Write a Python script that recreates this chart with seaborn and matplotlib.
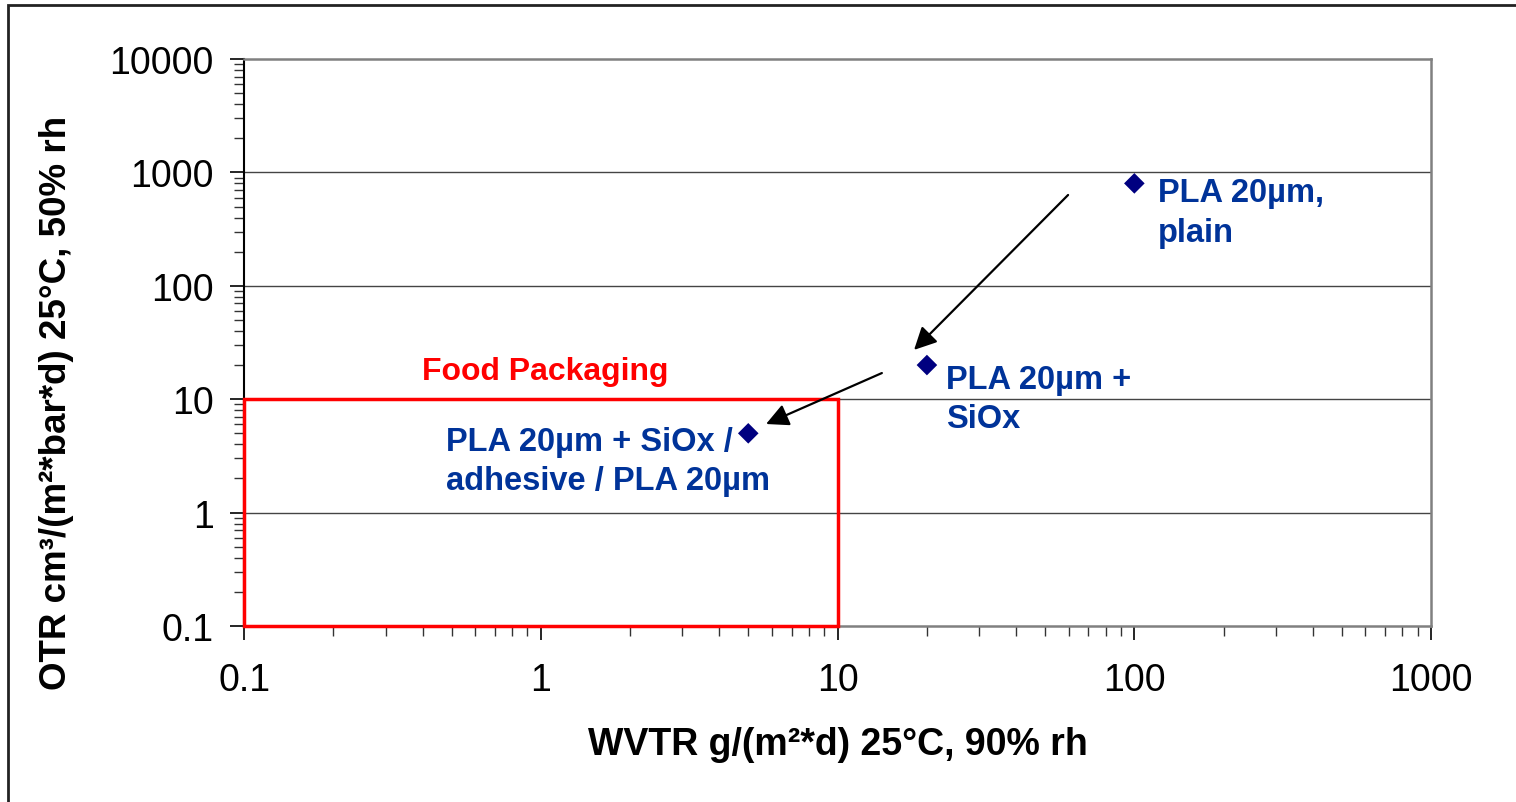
import numpy as np
import pandas as pd
import seaborn as sns
import matplotlib.pyplot as plt
from matplotlib.patches import Rectangle
from matplotlib.ticker import LogLocator, FixedLocator, FixedFormatter, NullFormatter

# data
samples = ["PLA 20µm,\nplain", "PLA 20µm +\nSiOx", "PLA 20µm + SiOx /\nadhesive / PLA 20µm"]
wvtr = [100, 20, 5]
otr = [800, 20, 5]

# label anchor (top-left of text) in data units
label_x = [120, 23.2, 0.48]
label_y = [902, 20.6, 5.86]

# arrows between the samples (tail, head)
arrow_tail_x = [59.8, 14.1]
arrow_tail_y = [632, 17.0]
arrow_head_x = [18.1, 5.74]
arrow_head_y = [27.2, 6.04]

# food packaging window
box_x = [0.1, 10]
box_y = [0.1, 10]

x_ticks = [0.1, 1, 10, 100, 1000]
x_ticklabels = ["0.1", "1", "10", "100", "1000"]
y_ticks = [0.1, 1, 10, 100, 1000, 10000]
y_ticklabels = ["0.1", "1", "10", "100", "1000", "10000"]

df = pd.DataFrame({"sample": samples, "wvtr": wvtr, "otr": otr})

sns.set_theme(style="white")
plt.rcParams['font.family'] = ['Liberation Sans', 'DejaVu Sans']

fig = plt.figure(figsize=(15.16, 8.03), dpi=100)
ax = fig.add_axes([0.161, 0.2192, 0.783, 0.7061])

ax.set_xscale("log")
ax.set_yscale("log")
ax.set_xlim(0.1, 1000)
ax.set_ylim(0.1, 10000)

for t in y_ticks[1:-1]:
    ax.axhline(t, color="#444444", lw=1.0, zorder=0)

sns.scatterplot(data=df, x="wvtr", y="otr", marker="D", s=110, color="#000080",
                edgecolor="none", ax=ax, zorder=4, legend=False)

ax.add_patch(Rectangle((box_x[0], box_y[0]), box_x[1] - box_x[0], box_y[1] - box_y[0],
                       fill=False, edgecolor="#ff0000", lw=2.5, zorder=3, clip_on=False))
ax.text(0.398, 17.9, "Food Packaging", color="#ff0000", fontsize=23, fontweight="bold",
        va="center", ha="left")

for txt, lx, ly in zip(samples, label_x, label_y):
    ax.text(lx, ly, txt, color="#003399", fontsize=23.5, fontweight="bold",
            va="top", ha="left", linespacing=1.36)

for tx, ty, hx, hy in zip(arrow_tail_x, arrow_tail_y, arrow_head_x, arrow_head_y):
    ax.annotate("", xy=(hx, hy), xytext=(tx, ty),
                arrowprops=dict(arrowstyle="-|>", color="black", lw=1.6,
                                mutation_scale=34, shrinkA=0, shrinkB=0))

ax.xaxis.set_major_locator(FixedLocator(x_ticks))
ax.xaxis.set_major_formatter(FixedFormatter(x_ticklabels))
ax.yaxis.set_major_locator(FixedLocator(y_ticks))
ax.yaxis.set_major_formatter(FixedFormatter(y_ticklabels))
ax.xaxis.set_minor_locator(LogLocator(base=10, subs=np.arange(2, 10)))
ax.yaxis.set_minor_locator(LogLocator(base=10, subs=np.arange(2, 10)))
ax.xaxis.set_minor_formatter(NullFormatter())
ax.yaxis.set_minor_formatter(NullFormatter())

ax.tick_params(axis="both", which="major", direction="out", length=10, width=1.2,
               color="black", labelsize=27, labelcolor="black",
               bottom=True, left=True)
ax.tick_params(axis="x", which="major", pad=16)
ax.tick_params(axis="y", which="major", pad=12)
ax.tick_params(axis="both", which="minor", direction="out", length=7, width=1.0,
               color="#333333", bottom=True, left=True)

for side in ["top", "right", "bottom"]:
    ax.spines[side].set_color("#808080")
    ax.spines[side].set_linewidth(1.8)
ax.spines["left"].set_color("black")
ax.spines["left"].set_linewidth(1.5)

ax.set_xlabel("WVTR g/(m²*d) 25°C, 90% rh", fontsize=27, fontweight="bold", color="black")
ax.set_ylabel("OTR cm³/(m²*bar*d) 25°C, 50% rh", fontsize=26.5, fontweight="bold", color="black")
ax.xaxis.set_label_coords(0.5, -0.176)
ax.yaxis.set_label_coords(-0.143, 0.395)

fig.patches.append(Rectangle((8 / 1516, -0.05), 1.2, 1 - 6 / 803 + 0.05, transform=fig.transFigure,
                             fill=False, edgecolor="#222222", lw=2, figure=fig))

fig.savefig("out.png", dpi=100)
